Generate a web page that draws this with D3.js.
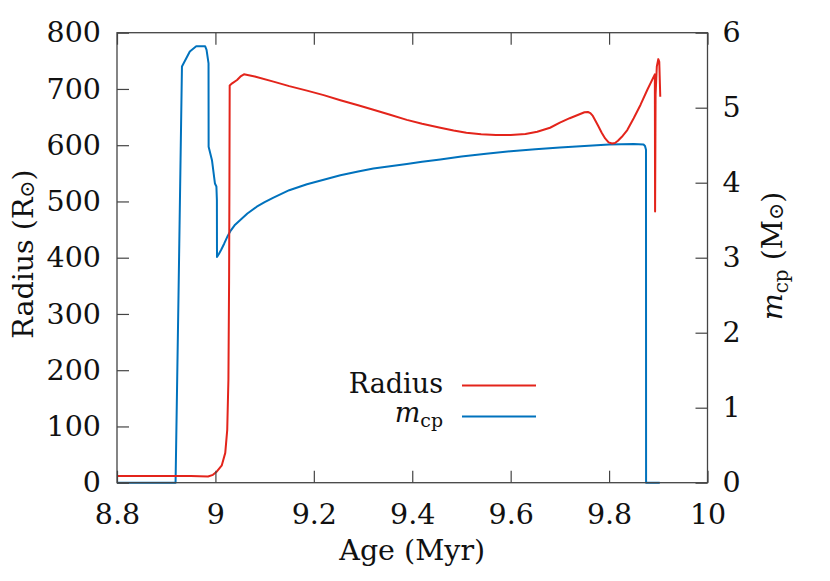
<!DOCTYPE html>
<html>
<head>
<meta charset="utf-8">
<script src="https://cdn.jsdelivr.net/npm/d3@7"></script>
<style>
  body { margin: 0; background: #fff; }
</style>
</head>
<body>
<svg></svg>
<script>
const width = 830;
const height = 581;
const fontStack = '"DejaVu Serif", serif';

const svg = d3.select("svg").attr("width", width).attr("height", height)
  .style("font-family", fontStack);

// chart values
const xTicks = [8.8, 9.0, 9.2, 9.4, 9.6, 9.8, 10.0];
const xTickLabels = ["8.8", "9", "9.2", "9.4", "9.6", "9.8", "10"];
const radiusTicks = [0, 100, 200, 300, 400, 500, 600, 700, 800];
const mcpTicks = [0, 1, 2, 3, 4, 5, 6];

const radiusAge = [8.80, 8.95, 8.985, 8.995, 9.003, 9.013, 9.020, 9.024, 9.0264, 9.0278, 9.0285, 9.029,
  9.034, 9.044, 9.052, 9.058, 9.08, 9.118, 9.15, 9.186, 9.22, 9.254, 9.29, 9.321, 9.355, 9.389,
  9.42, 9.457, 9.484, 9.51, 9.54, 9.57, 9.60, 9.63, 9.654, 9.68, 9.70, 9.72, 9.74, 9.750, 9.757,
  9.762, 9.767, 9.772, 9.778, 9.785, 9.792, 9.799, 9.806, 9.812, 9.818, 9.826, 9.837, 9.85, 9.864,
  9.878, 9.893, 9.8935, 9.8945, 9.897, 9.900, 9.902, 9.904];
const radius = [12, 12, 11, 14, 20, 31, 53, 94, 183, 360, 540, 706,
  710, 716, 723, 726, 722, 713, 705, 697, 689, 680, 671, 663, 654, 645,
  638, 631, 626, 622, 619.5, 618, 618, 620, 624, 631, 640, 648, 655, 658.5, 659,
  657, 652, 644, 634, 622, 612, 605, 603, 604, 608, 615, 627, 648, 672,
  699, 726, 482, 690, 740, 753, 748, 686];

const mcpAge = [8.80, 8.919, 8.925, 8.932, 8.948, 8.961, 8.979, 8.982, 8.986, 8.9862, 8.993, 8.999,
  9.002, 9.003, 9.0032, 9.007, 9.012, 9.018, 9.025, 9.030, 9.040, 9.050, 9.065, 9.084, 9.10, 9.118,
  9.15, 9.186, 9.22, 9.254, 9.29, 9.321, 9.355, 9.389, 9.42, 9.457, 9.50, 9.55, 9.60, 9.65, 9.70,
  9.75, 9.80, 9.85, 9.870, 9.873, 9.875, 9.8752, 9.903];
const mcp = [0, 0, 2.5, 5.55, 5.75, 5.82, 5.82, 5.77, 5.59, 4.48, 4.30, 3.99,
  3.95, 3.77, 3.01, 3.05, 3.11, 3.19, 3.29, 3.35, 3.44, 3.50, 3.59, 3.68, 3.74, 3.80,
  3.90, 3.98, 4.04, 4.10, 4.15, 4.19, 4.22, 4.25, 4.28, 4.31, 4.35, 4.385, 4.42, 4.445, 4.47,
  4.49, 4.51, 4.515, 4.51, 4.49, 4.44, 0, 0];

const plotLeft = 117, plotRight = 707.5, plotTop = 32.7, plotBottom = 482.7;
const x = d3.scaleLinear().domain([8.8, 10]).range([plotLeft, plotRight]);
const yR = d3.scaleLinear().domain([0, 800]).range([plotBottom, plotTop]);
const yM = d3.scaleLinear().domain([0, 6]).range([plotBottom, plotTop]);

const red = "#e3241b";
const blue = "#0072bd";
const fs = 28.5;
const tickLen = 12;

// curves
const lineR = d3.line().x((d, i) => x(radiusAge[i])).y(d => yR(d));
const lineM = d3.line().x((d, i) => x(mcpAge[i])).y(d => yM(d));

svg.append("path").datum(mcp).attr("d", lineM)
  .attr("fill", "none").attr("stroke", blue).attr("stroke-width", 2).attr("stroke-linejoin", "round");
svg.append("path").datum(radius).attr("d", lineR)
  .attr("fill", "none").attr("stroke", red).attr("stroke-width", 2).attr("stroke-linejoin", "round");

// axes (ticks pointing inward)
const axisColor = "#444";
function styleAxis(g) {
  g.attr("font-family", null).attr("font-size", null);
  g.select(".domain").remove();
  g.selectAll(".tick line").attr("stroke", axisColor).attr("stroke-width", 1.2);
  g.selectAll(".tick text").attr("fill", "#111")
    .style("font-size", fs + "px").style("font-family", fontStack);
}

svg.append("g").attr("transform", `translate(0,${plotBottom})`)
  .call(d3.axisBottom(x).tickValues(xTicks).tickSize(-tickLen).tickPadding(21)
    .tickFormat((d, i) => xTickLabels[i]))
  .call(styleAxis)
  .call(g => g.selectAll(".tick text").attr("dy", "0.71em"));

svg.append("g").attr("transform", `translate(0,${plotTop})`)
  .call(d3.axisTop(x).tickValues(xTicks).tickSize(-tickLen).tickFormat(""))
  .call(styleAxis);

svg.append("g").attr("transform", `translate(${plotLeft},0)`)
  .call(d3.axisLeft(yR).tickValues(radiusTicks).tickSize(-tickLen).tickPadding(16))
  .call(styleAxis);

svg.append("g").attr("transform", `translate(${plotRight},0)`)
  .call(d3.axisRight(yM).tickValues(mcpTicks).tickSize(-tickLen).tickPadding(15)
    .tickFormat(d3.format("d")))
  .call(styleAxis);

svg.append("rect").attr("x", plotLeft).attr("y", plotTop)
  .attr("width", plotRight - plotLeft).attr("height", plotBottom - plotTop)
  .attr("fill", "none").attr("stroke", axisColor).attr("stroke-width", 1.3);

// axis titles
function addText(sel) {
  return sel.append("text").style("font-family", fontStack).style("font-size", fs + "px").attr("fill", "#111");
}

addText(svg).attr("x", (plotLeft + plotRight) / 2).attr("y", 560)
  .attr("text-anchor", "middle").text("Age (Myr)");

const yl = addText(svg).attr("transform", "translate(33,254) rotate(-90)")
  .attr("text-anchor", "middle");
yl.append("tspan").text("Radius (R");
yl.append("tspan").text("\u2299").style("font-size", (fs * 0.72) + "px").attr("dy", 1);
yl.append("tspan").text(")").attr("dy", -1);

const yr = addText(svg).attr("transform", "translate(782,256) rotate(-90)")
  .attr("text-anchor", "middle");
yr.append("tspan").text("m").attr("font-style", "italic");
yr.append("tspan").text("cp").style("font-size", (fs * 0.7) + "px").attr("dy", 6);
yr.append("tspan").text(" (M").attr("dy", -6);
yr.append("tspan").text("\u2299").style("font-size", (fs * 0.72) + "px").attr("dy", 1);
yr.append("tspan").text(")").attr("dy", -1);

// legend
const lfs = 27;
const legend = svg.append("g");
addText(legend).style("font-size", lfs + "px").attr("x", 443).attr("y", 393)
  .attr("text-anchor", "end").text("Radius");
legend.append("line").attr("x1", 462).attr("x2", 536).attr("y1", 385.5).attr("y2", 385.5)
  .attr("stroke", red).attr("stroke-width", 2);
const lm = addText(legend).style("font-size", lfs + "px").attr("x", 443).attr("y", 422)
  .attr("text-anchor", "end");
lm.append("tspan").text("m").attr("font-style", "italic");
lm.append("tspan").text("cp").style("font-size", (lfs * 0.7) + "px").attr("dy", 5);
legend.append("line").attr("x1", 462).attr("x2", 536).attr("y1", 416.5).attr("y2", 416.5)
  .attr("stroke", blue).attr("stroke-width", 2);
</script>
</body>
</html>
